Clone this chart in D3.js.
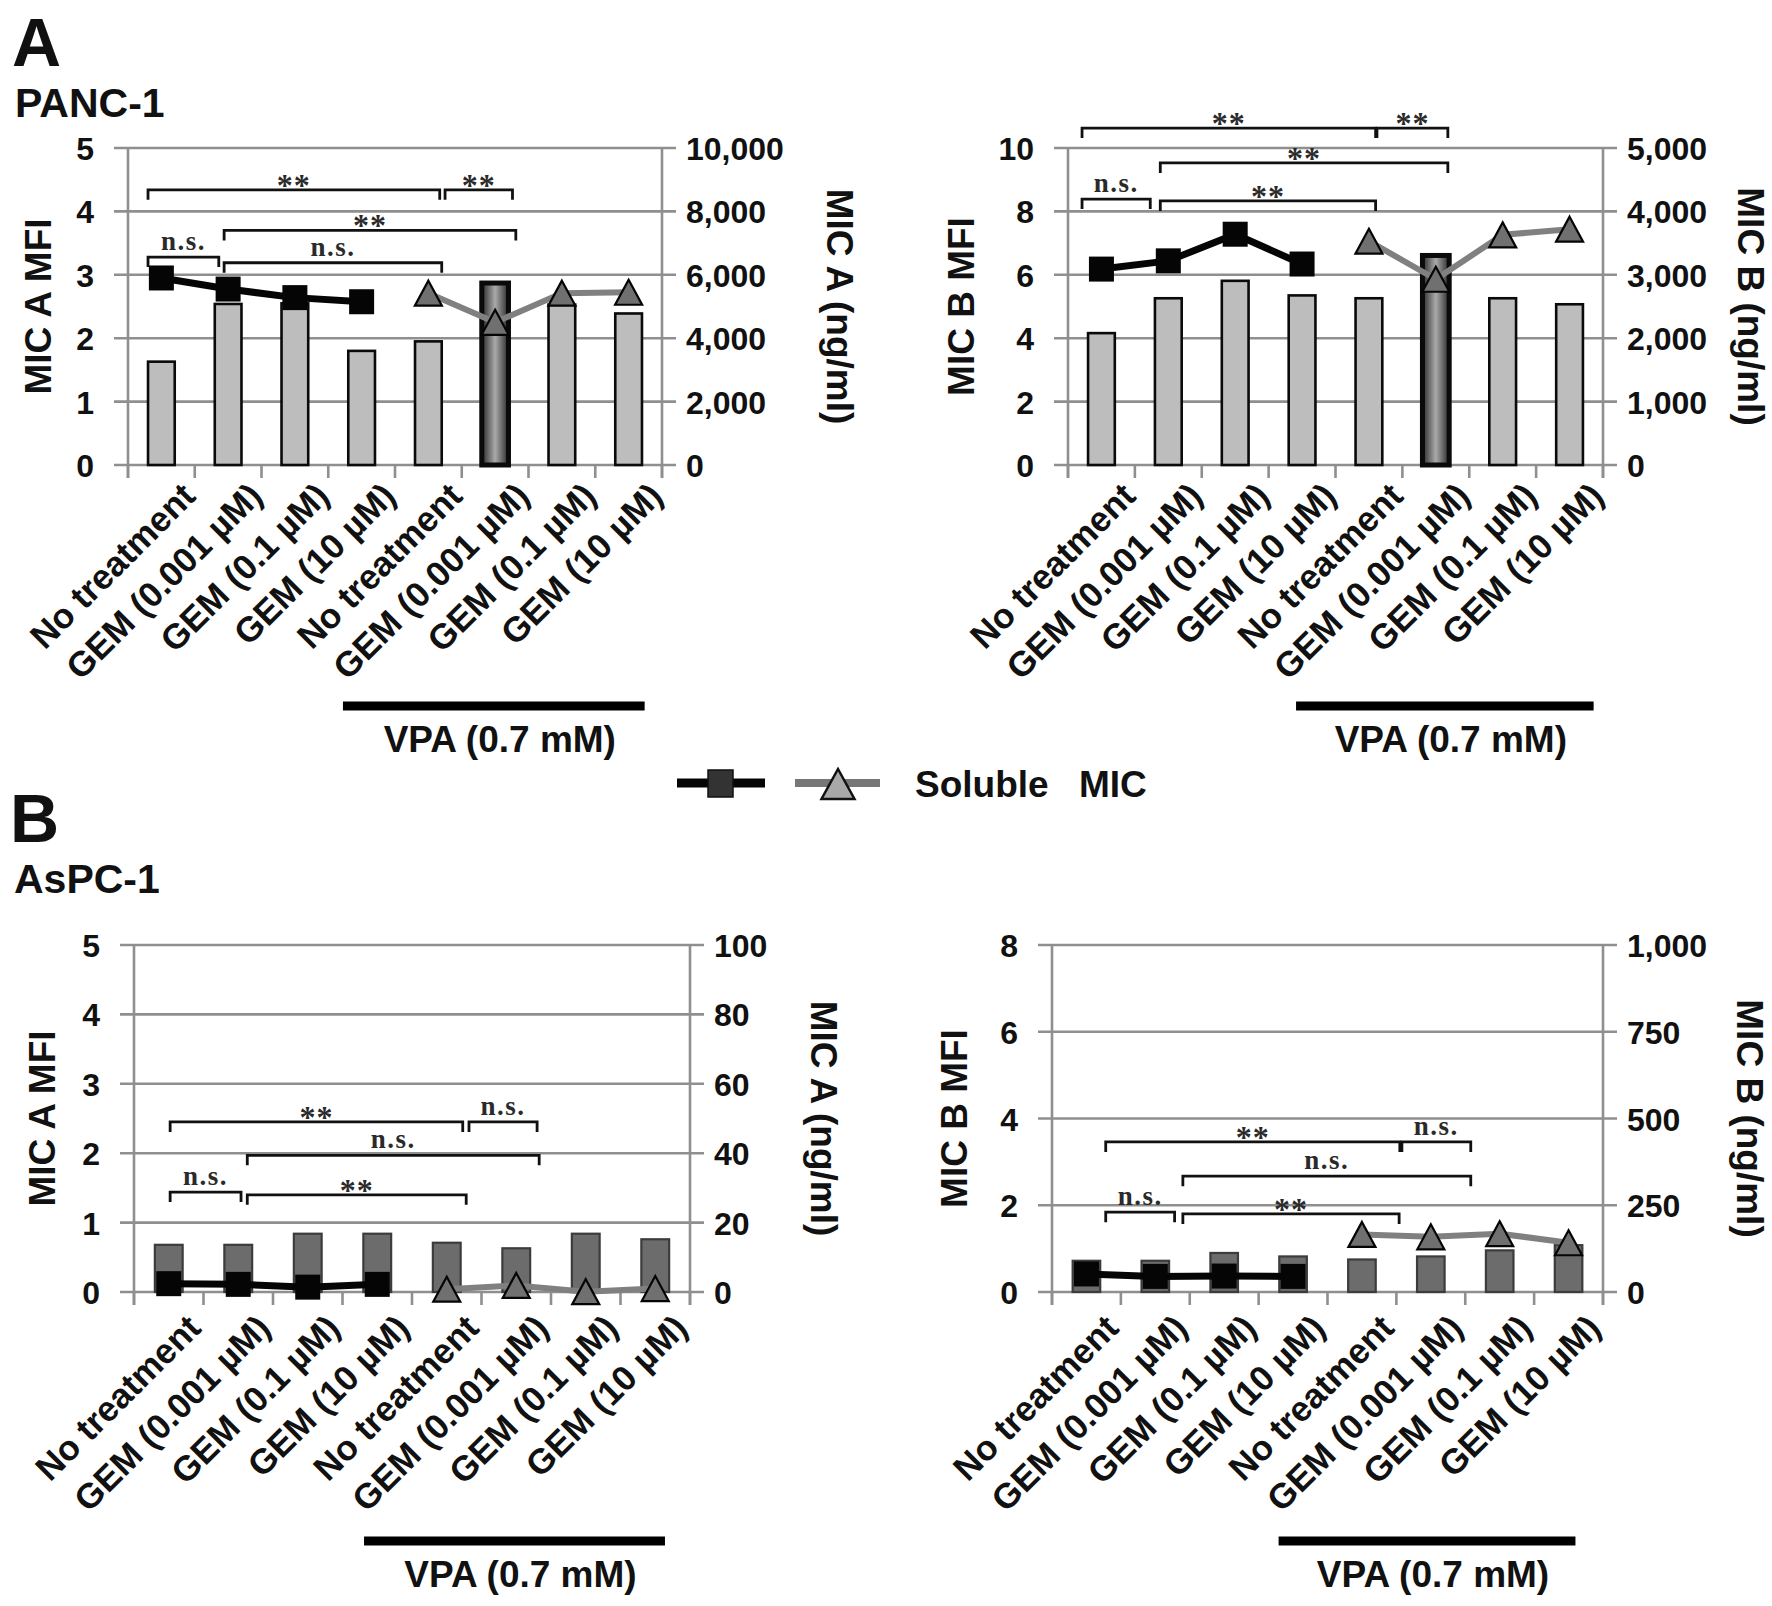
<!DOCTYPE html>
<html><head><meta charset="utf-8">
<script src="https://cdn.jsdelivr.net/npm/d3@7/dist/d3.min.js"></script>
<style>
body{margin:0;background:#fff}
svg{display:block}
text{font-family:"Liberation Sans",Arial,Helvetica,sans-serif;font-weight:bold;fill:#111}
text.sig{font-family:"Liberation Serif","Times New Roman",serif;font-weight:bold;fill:#2a2a2a}
</style>
</head><body>
<svg id="c" width="1772" height="1606"></svg>
<script>
// ---------------- DATA ----------------
const categories = ["No treatment","GEM (0.001 µM)","GEM (0.1 µM)","GEM (10 µM)",
                    "No treatment","GEM (0.001 µM)","GEM (0.1 µM)","GEM (10 µM)"];

// PANC-1 MIC A
const panc1MicaMFI      = [1.63, 2.54, 2.55, 1.80, 1.95, 2.87, 2.53, 2.39];
const panc1MicaSolNoVPA = [5900, 5550, 5280, 5150];
const panc1MicaSolVPA   = [5420, 4500, 5420, 5450];
// PANC-1 MIC B
const panc1MicbMFI      = [4.16, 5.26, 5.81, 5.35, 5.26, 6.61, 5.26, 5.07];
const panc1MicbSolNoVPA = [3090, 3220, 3640, 3170];
const panc1MicbSolVPA   = [3530, 2930, 3630, 3720];
// AsPC-1 MIC A
const aspc1MicaMFI      = [0.68, 0.68, 0.84, 0.84, 0.71, 0.63, 0.84, 0.76];
const aspc1MicaSolNoVPA = [2.4, 2.2, 1.4, 2.2];
const aspc1MicaSolVPA   = [0.8, 1.9, 0.1, 1.0];
// AsPC-1 MIC B
const aspc1MicbMFI      = [0.72, 0.72, 0.90, 0.82, 0.75, 0.82, 0.96, 1.08];
const aspc1MicbSolNoVPA = [52, 45, 46, 45];
const aspc1MicbSolVPA   = [166, 159, 168, 142];

// tick labels
const ticksMFI5  = [0,1,2,3,4,5];
const ticksMFI10 = [0,2,4,6,8,10];
const ticksMFI8  = [0,2,4,6,8];
const ticksSolA1 = [0,2000,4000,6000,8000,10000];
const ticksSolB1 = [0,1000,2000,3000,4000,5000];
const ticksSolA2 = [0,20,40,60,80,100];
const ticksSolB2 = [0,250,500,750,1000];

// significance brackets: [from, to (category units), height (MFI units), label]
const sigPanc1A = [[0.30,4.67,4.34,"**"],[4.75,5.76,4.34,"**"],[1.44,5.81,3.70,"**"],[0.30,1.36,3.28,"n.s."],[1.44,4.70,3.19,"n.s."]];
const sigPanc1B = [[0.21,4.60,10.63,"**"],[4.62,5.68,10.63,"**"],[1.38,5.68,9.53,"**"],[0.21,1.23,8.39,"n.s."],[1.38,4.60,8.33,"**"]];
const sigAspc1A = [[0.52,4.73,2.45,"**"],[4.82,5.80,2.45,"n.s."],[1.63,5.83,1.97,"n.s."],[0.52,1.54,1.44,"n.s."],[1.63,4.78,1.40,"**"]];
const sigAspc1B = [[0.78,5.05,3.46,"**"],[5.08,6.08,3.46,"n.s."],[1.90,6.08,2.67,"n.s."],[0.78,1.78,1.84,"n.s."],[1.90,5.04,1.80,"**"]];

// VPA treatment span (category units)
const vpaSpanA1 = [3.22,7.74], vpaSpanB1 = [3.41,7.86], vpaSpanA2 = [3.31,7.64], vpaSpanB2 = [3.29,7.60];

// ---------------- LAYOUT ----------------
const panels = [
 {x0:128,x1:662,yTop:148,yBot:465,lMax:5,lTicks:ticksMFI5,rMax:10000,rTicks:ticksSolA1,
  lTitle:"MIC A MFI",rTitle:"MIC A (ng/ml)",ltx:38,rtx:840,
  bars:panc1MicaMFI,sq:panc1MicaSolNoVPA,tri:panc1MicaSolVPA,sig:sigPanc1A,vpa:vpaSpanA1,style:"A",lab:[36,33],vpaY:[241,287]},
 {x0:1068,x1:1603,yTop:148,yBot:465,lMax:10,lTicks:ticksMFI10,rMax:5000,rTicks:ticksSolB1,
  lTitle:"MIC B MFI",rTitle:"MIC B (ng/ml)",ltx:961,rtx:1751,
  bars:panc1MicbMFI,sq:panc1MicbSolNoVPA,tri:panc1MicbSolVPA,sig:sigPanc1B,vpa:vpaSpanB1,style:"A",lab:[36,33],vpaY:[241,287]},
 {x0:134,x1:690,yTop:945,yBot:1292,lMax:5,lTicks:ticksMFI5,rMax:100,rTicks:ticksSolA2,
  lTitle:"MIC A MFI",rTitle:"MIC A (ng/ml)",ltx:42,rtx:824,
  bars:aspc1MicaMFI,sq:aspc1MicaSolNoVPA,tri:aspc1MicaSolVPA,sig:sigAspc1A,vpa:vpaSpanA2,style:"B",lab:[34,38],vpaY:[249,295]},
 {x0:1052,x1:1603,yTop:945,yBot:1292,lMax:8,lTicks:ticksMFI8,rMax:1000,rTicks:ticksSolB2,
  lTitle:"MIC B MFI",rTitle:"MIC B (ng/ml)",ltx:954,rtx:1750,
  bars:aspc1MicbMFI,sq:aspc1MicbSolNoVPA,tri:aspc1MicbSolVPA,sig:sigAspc1B,vpa:vpaSpanB2,style:"B",lab:[34,38],vpaY:[249,295]}
];

const svg = d3.select("#c");
const defs = svg.append("defs");
const grad = defs.append("linearGradient").attr("id","hl")
  .attr("x1","0%").attr("x2","100%").attr("y1","0%").attr("y2","0%");
[["0%","#2a2a2a"],["50%","#aaaaaa"],["100%","#2a2a2a"]].forEach(([o,c])=>
  grad.append("stop").attr("offset",o).attr("stop-color",c));

const GRID = "#8f8f8f";
const fmt = d3.format(",");
const triPath = (w,h)=>`M0,${-h/2}L${w/2},${h/2}L${-w/2},${h/2}Z`;

function drawPanel(p){
  const G = svg.append("g");
  const n = categories.length;
  const xb = d3.scaleBand().domain(d3.range(n)).range([p.x0,p.x1]).paddingInner(0.6).paddingOuter(0.3);
  const xu = d3.scaleLinear().domain([0,n]).range([p.x0,p.x1]);
  const yL = d3.scaleLinear().domain([0,p.lMax]).range([p.yBot,p.yTop]);
  const yR = d3.scaleLinear().domain([0,p.rMax]).range([p.yBot,p.yTop]);
  const cx = i => xb(i) + xb.bandwidth()/2;

  // gridlines
  G.append("g").selectAll("line").data(p.lTicks).join("line")
    .attr("x1",p.x0-14).attr("x2",p.x1+14)
    .attr("y1",d=>yL(d)).attr("y2",d=>yL(d))
    .attr("stroke",GRID).attr("stroke-width",2.6);
  // vertical axis lines
  G.append("g").selectAll("line").data([p.x0,p.x1]).join("line")
    .attr("x1",d=>d).attr("x2",d=>d).attr("y1",p.yTop).attr("y2",p.yBot+13)
    .attr("stroke",GRID).attr("stroke-width",2.6);
  // category ticks
  G.append("g").selectAll("line").data(d3.range(n+1)).join("line")
    .attr("x1",d=>xu(d)).attr("x2",d=>xu(d)).attr("y1",p.yBot).attr("y2",p.yBot+13)
    .attr("stroke",GRID).attr("stroke-width",2.6);

  // axis tick labels via d3 axes
  const la = G.append("g").attr("transform",`translate(${p.x0-34},0)`)
    .call(d3.axisLeft(yL).tickValues(p.lTicks).tickSize(0).tickPadding(0).tickFormat(fmt));
  const ra = G.append("g").attr("transform",`translate(${p.x1+24},0)`)
    .call(d3.axisRight(yR).tickValues(p.rTicks).tickSize(0).tickPadding(0).tickFormat(fmt));
  [la,ra].forEach(a=>{
    a.select(".domain").remove();
    a.attr("font-family",null).attr("font-size",null);
    a.selectAll("text").style("font-size","32px").attr("dy","0.36em");
  });

  // axis titles
  const midY = (p.yTop+p.yBot)/2;
  G.append("text").attr("transform",`translate(${p.ltx+13},${midY}) rotate(-90)`)
    .attr("text-anchor","middle").style("font-size","37px").text(p.lTitle);
  G.append("text").attr("transform",`translate(${p.rtx-13},${midY}) rotate(90)`)
    .attr("text-anchor","middle").style("font-size","37px").text(p.rTitle);

  // bars
  G.append("g").selectAll("rect").data(p.bars).join("rect")
    .attr("x",(d,i)=>xb(i)).attr("width",xb.bandwidth())
    .attr("y",d=>yL(d)).attr("height",d=>p.yBot-yL(d))
    .attr("fill",(d,i)=>p.style==="A" ? (i===5?"url(#hl)":"#bdbdbd") : "#6c6c6c")
    .attr("stroke",(d,i)=>p.style==="A" ? "#0a0a0a" : "#3c3c3c")
    .attr("stroke-width",(d,i)=>p.style==="A" ? (i===5?5:2.6) : 2.2);

  // category labels
  G.append("g").selectAll("text").data(categories).join("text")
    .attr("transform",(d,i)=>`translate(${cx(i)+p.lab[0]},${p.yBot+p.lab[1]}) rotate(-45)`)
    .attr("text-anchor","end").style("font-size","35px").text(d=>d);

  // soluble MIC lines
  const sqData = p.sq.map((v,k)=>({i:k,v}));
  const triData = p.tri.map((v,k)=>({i:k+4,v}));
  const line = d3.line().x(d=>cx(d.i)).y(d=>yR(d.v));
  G.append("path").datum(sqData).attr("d",line).attr("fill","none")
    .attr("stroke","#050505").attr("stroke-width",7).attr("stroke-linejoin","round");
  G.append("path").datum(triData).attr("d",line).attr("fill","none")
    .attr("stroke","#808080").attr("stroke-width",6).attr("stroke-linejoin","round");
  G.append("g").selectAll("rect").data(sqData).join("rect")
    .attr("x",d=>cx(d.i)-12.5).attr("y",d=>yR(d.v)-12.5).attr("width",25).attr("height",25)
    .attr("fill","#050505");
  G.append("g").selectAll("path").data(triData).join("path")
    .attr("transform",d=>`translate(${cx(d.i)},${yR(d.v)})`)
    .attr("d",triPath(27,25)).attr("fill","#707070").attr("stroke","#050505").attr("stroke-width",2.2)
    .attr("stroke-linejoin","miter");

  // significance brackets
  const sg = G.append("g");
  p.sig.forEach(([s,e,v,lab])=>{
    const y = yL(v);
    sg.append("path").attr("d",`M${xu(s)},${y+10}V${y}H${xu(e)}V${y+10}`)
      .attr("fill","none").attr("stroke","#111").attr("stroke-width",2.8);
    sg.append("text").attr("class","sig").attr("x",(xu(s)+xu(e))/2).attr("y",y + (lab==="**"?6:-7))
      .attr("text-anchor","middle").style("font-size",lab==="**"?"32px":"27px")
      .style("letter-spacing",lab==="**"?"1px":"1.5px").text(lab);
  });

  // VPA bar
  G.append("line").attr("x1",xu(p.vpa[0])).attr("x2",xu(p.vpa[1]))
    .attr("y1",p.yBot+p.vpaY[0]).attr("y2",p.yBot+p.vpaY[0])
    .attr("stroke","#000").attr("stroke-width",9);
  G.append("text").attr("x",(xu(p.vpa[0])+xu(p.vpa[1]))/2+6).attr("y",p.yBot+p.vpaY[1])
    .attr("text-anchor","middle").style("font-size","37px").text("VPA (0.7 mM)");
}
panels.forEach(drawPanel);

// headers
svg.append("text").attr("x",12).attr("y",66).style("font-size","68px").text("A");
svg.append("text").attr("x",15).attr("y",117).style("font-size","41px").text("PANC-1");
svg.append("text").attr("x",10).attr("y",842).style("font-size","68px").text("B");
svg.append("text").attr("x",14).attr("y",893).style("font-size","41px").text("AsPC-1");

// legend
const L = svg.append("g");
L.append("line").attr("x1",677).attr("x2",765).attr("y1",783).attr("y2",783).attr("stroke","#050505").attr("stroke-width",9);
L.append("rect").attr("x",708).attr("y",770).attr("width",25).attr("height",27).attr("fill","#333").attr("stroke","#111").attr("stroke-width",1.5);
L.append("line").attr("x1",795).attr("x2",880).attr("y1",783).attr("y2",783).attr("stroke","#777").attr("stroke-width",8);
L.append("path").attr("transform","translate(838,784)").attr("d",triPath(33,30))
  .attr("fill","#a8a8a8").attr("stroke","#111").attr("stroke-width",2.5);
L.append("text").attr("x",915).attr("y",797).style("font-size","37px").text("Soluble");
L.append("text").attr("x",1079).attr("y",797).style("font-size","37px").text("MIC");
</script>
</body></html>
